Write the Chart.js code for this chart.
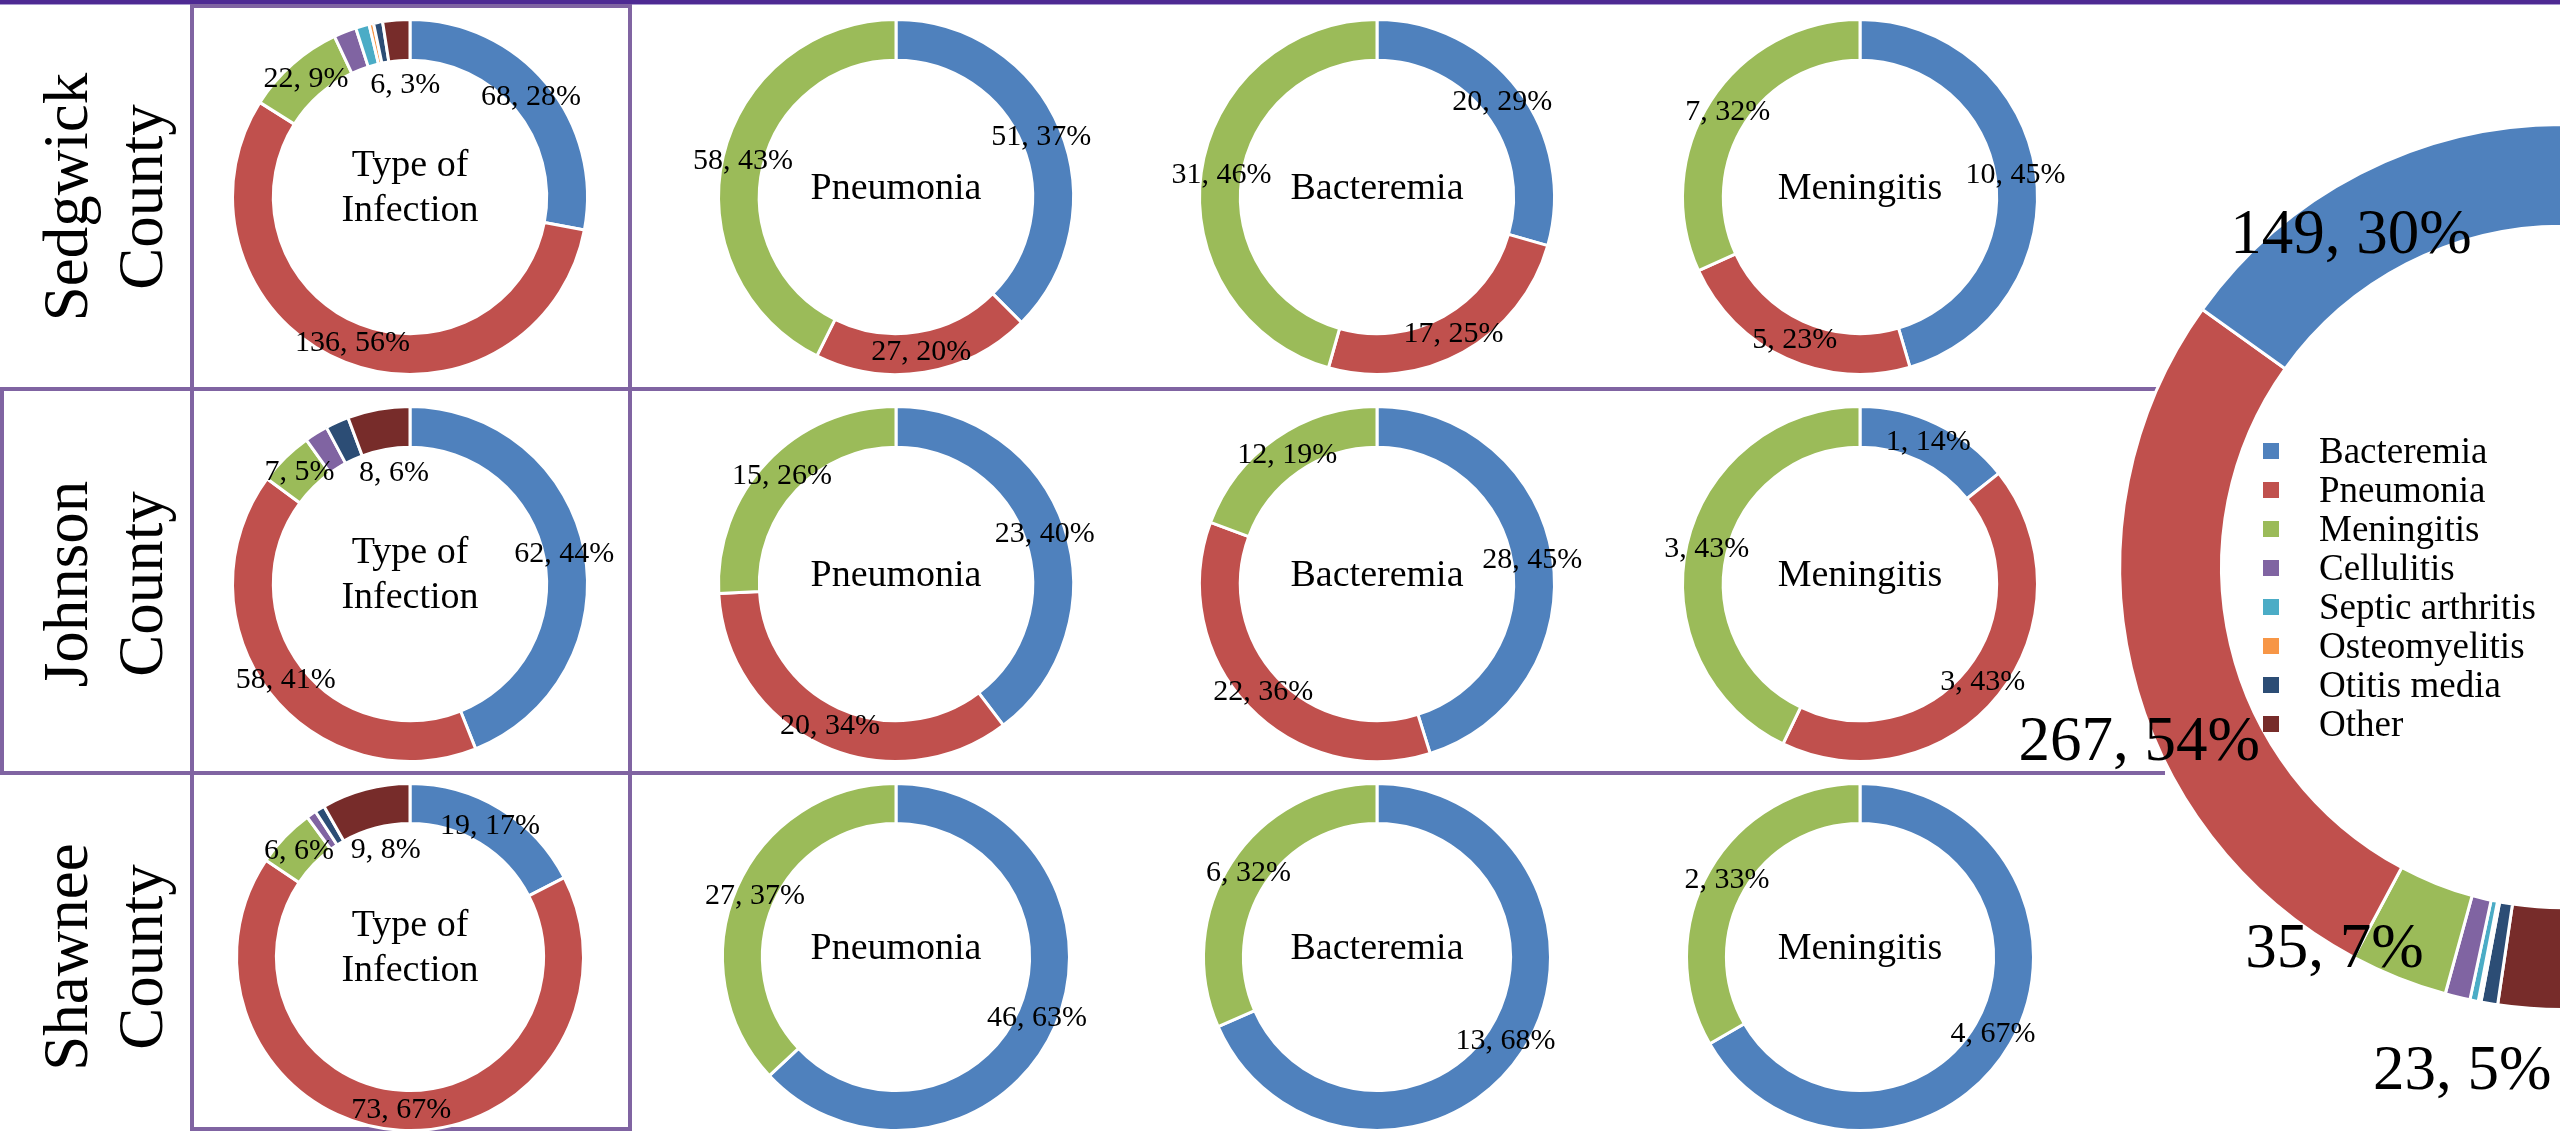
<!DOCTYPE html>
<html lang="en">
<head>
<meta charset="UTF-8">
<title>Type of Infection by County</title>
<script src="https://cdn.jsdelivr.net/npm/chart.js@4"></script>
<style>
  body { margin:0; width:2560px; height:1134px; overflow:hidden; background:#fff; position:relative;
         font-family:'Liberation Serif','Times New Roman',serif; color:#000; }
  .rule { position:absolute; background:#8064a2; }
  .topband { position:absolute; left:0; top:0; width:2560px; height:4px; background:#4e2a93; border-bottom:1px solid #a99bd0; }
  .typebox { position:absolute; left:190px; top:4px; width:442px; height:1127px; border:4px solid #8064a2; box-sizing:border-box; }
  .county { position:absolute; width:380px; font-size:63px; line-height:75px; text-align:center;
            transform:translate(-50%,-50%) rotate(-90deg); }
  canvas.ring { position:absolute; z-index:2; }
  #bigChart { position:absolute; left:1980px; top:90px; z-index:3; }
  #legend { position:absolute; left:2263px; top:431px; z-index:4; font-size:37px; }
  #legend div { display:flex; align-items:center; height:39px; white-space:nowrap; }
  #legend span { display:inline-block; width:16px; height:16px; margin-right:40px; }
</style>
</head>
<body>
<div class="topband"></div>
<div class="typebox"></div>
<div class="rule" style="left:0;top:387px;width:2165px;height:4px"></div>
<div class="rule" style="left:0;top:771px;width:2165px;height:4px"></div>
<div class="rule" style="left:0;top:387px;width:4px;height:388px"></div>
<div id="legend"></div>
<canvas id="bigChart" width="700" height="1044"></canvas>

<script>
// categories
const infectionTypes = ['Bacteremia', 'Pneumonia', 'Meningitis', 'Cellulitis', 'Septic arthritis', 'Osteomyelitis', 'Otitis media', 'Other'];
const typeColors = ['#4f81bd', '#c0504d', '#9bbb59', '#8064a2', '#4bacc6', '#f79646', '#2c4d75', '#772c2a'];
const labelledTypes = ['Bacteremia', 'Pneumonia', 'Meningitis', 'Other'];
const counties = ['Sedgwick County', 'Johnson County', 'Shawnee County'];
const subGroups = ['Group 1', 'Group 2', 'Group 3'];
const subColors = ['#4f81bd', '#c0504d', '#9bbb59'];
const panelTitles = [['Type of', 'Infection'], ['Pneumonia'], ['Bacteremia'], ['Meningitis']];

// counts by type of infection
const sedgwickTypes = [68, 136, 22, 5, 3, 1, 2, 6];
const johnsonTypes  = [62, 58, 7, 3, 0, 0, 3, 8];
const shawneeTypes  = [19, 73, 6, 1, 0, 0, 1, 9];
const allCountyTypes = [149, 267, 35, 9, 3, 1, 6, 23];

// breakdown inside each infection
const sedgwickPneumonia  = [51, 27, 58];
const sedgwickBacteremia = [20, 17, 31];
const sedgwickMeningitis = [10, 5, 7];
const johnsonPneumonia   = [23, 20, 15];
const johnsonBacteremia  = [28, 22, 12];
const johnsonMeningitis  = [1, 3, 3];
const shawneePneumonia   = [46, 0, 27];
const shawneeBacteremia  = [13, 0, 6];
const shawneeMeningitis  = [4, 0, 2];

const countyRows = [
  [sedgwickTypes, sedgwickPneumonia, sedgwickBacteremia, sedgwickMeningitis],
  [johnsonTypes, johnsonPneumonia, johnsonBacteremia, johnsonMeningitis],
  [shawneeTypes, shawneePneumonia, shawneeBacteremia, shawneeMeningitis]
];

// layout
const colX = [410, 896, 1377, 1860];
const rowY = [197, 584, 957];
const rowR = [179, 179, 175];
const serif = "'Liberation Serif', 'Times New Roman', serif";

// percentages like Excel (largest remainder, sum to 100)
function percentLabels(values) {
  const total = values.reduce((a, b) => a + b, 0);
  const raw = values.map(v => v * 100 / total);
  const out = raw.map(Math.floor);
  const left = 100 - out.reduce((a, b) => a + b, 0);
  const order = raw.map((v, i) => i).sort((a, b) => (raw[b] - out[b]) - (raw[a] - out[a]));
  for (let k = 0; k < left; k++) out[order[k]]++;
  return out;
}

const ringLabels = {
  id: 'ringLabels',
  afterDatasetsDraw(chart, args, opts) {
    const ctx = chart.ctx;
    const data = chart.data.datasets[0].data;
    const pcts = percentLabels(data);
    const arcs = chart.getDatasetMeta(0).data;
    ctx.save();
    ctx.fillStyle = '#000';
    ctx.textAlign = 'center';
    ctx.textBaseline = 'middle';
    ctx.font = opts.fontSize + 'px ' + serif;
    arcs.forEach((arc, i) => {
      const name = chart.data.labels[i];
      if (!data[i] || (opts.show && !opts.show.includes(name))) return;
      const p = arc.getProps(['x', 'y', 'startAngle', 'endAngle', 'innerRadius', 'outerRadius'], true);
      const place = (opts.place && opts.place[name]) || [(p.innerRadius + p.outerRadius) / 2 / p.outerRadius, 0];
      const a = (p.startAngle + p.endAngle) / 2 + place[1] * Math.PI / 180;
      const r = p.outerRadius * place[0];
      ctx.fillText(data[i] + ', ' + pcts[i] + '%', p.x + r * Math.cos(a), p.y + r * Math.sin(a));
    });
    if (opts.title) {
      const c = arcs[0];
      ctx.font = '38px ' + serif;
      const lines = opts.title;
      const step = 45;
      const y0 = c.y - 8 - (lines.length - 1) * step / 2;
      lines.forEach((t, k) => ctx.fillText(t, c.x, y0 + k * step));
    }
    ctx.restore();
  }
};

function ringChart(canvas, labels, values, colors, R, opts) {
  const padX = canvas.width / 2 - R;
  const padY = canvas.height / 2 - R;
  return new Chart(canvas, {
    type: 'doughnut',
    data: {
      labels: labels,
      datasets: [{ data: values, backgroundColor: colors, borderColor: '#fff', borderWidth: 3, hoverOffset: 0 }]
    },
    options: {
      responsive: false,
      animation: false,
      cutout: '77%',
      layout: { padding: { left: padX, right: padX, top: padY, bottom: padY } },
      plugins: { legend: { display: false }, tooltip: { enabled: false }, ringLabels: opts }
    },
    plugins: [ringLabels]
  });
}

// county names
counties.forEach((name, r) => {
  const d = document.createElement('div');
  d.className = 'county';
  d.style.left = '104px';
  d.style.top = rowY[r] + 'px';
  d.innerHTML = name.replace(' ', '<br>');
  document.body.appendChild(d);
});

// small doughnuts
countyRows.forEach((row, r) => {
  row.forEach((values, c) => {
    const R = rowR[r];
    const cv = document.createElement('canvas');
    cv.className = 'ring';
    cv.width = 480;
    cv.height = 2 * R + 24;
    cv.style.left = (colX[c] - 240) + 'px';
    cv.style.top = (rowY[r] - R - 12) + 'px';
    document.body.appendChild(cv);
    if (c === 0) {
      ringChart(cv, infectionTypes, values, typeColors, R,
        { fontSize: 30, show: labelledTypes, place: { Other: [0.63, 2] }, title: panelTitles[c] });
    } else {
      ringChart(cv, subGroups, values, subColors, R, { fontSize: 30, title: panelTitles[c] });
    }
  });
});

// overall doughnut (left half only, Bacteremia ending at the top)
const bigLabels = infectionTypes.slice().reverse();
const bigValues = allCountyTypes.slice().reverse();
const bigColors = typeColors.slice().reverse();
new Chart(document.getElementById('bigChart'), {
  type: 'doughnut',
  data: {
    labels: bigLabels,
    datasets: [{ data: bigValues, backgroundColor: bigColors, borderColor: '#fff', borderWidth: 3, hoverOffset: 0 }]
  },
  options: {
    responsive: false,
    animation: false,
    cutout: '77%',
    rotation: 180,
    circumference: 180,
    layout: { padding: { left: 138, top: 33, right: 116, bottom: 123 } },
    plugins: {
      legend: { display: false },
      tooltip: { enabled: false },
      ringLabels: {
        fontSize: 63,
        show: labelledTypes,
        place: { Bacteremia: [0.886, -5.4], Pneumonia: [1.036, -9.5], Meningitis: [1.007, 9], Other: [1.164, 7] }
      }
    }
  },
  plugins: [ringLabels]
});

// legend
const legend = document.getElementById('legend');
infectionTypes.forEach((name, i) => {
  const row = document.createElement('div');
  row.innerHTML = '<span style="background:' + typeColors[i] + '"></span>' + name;
  legend.appendChild(row);
});
</script>
</body>
</html>
